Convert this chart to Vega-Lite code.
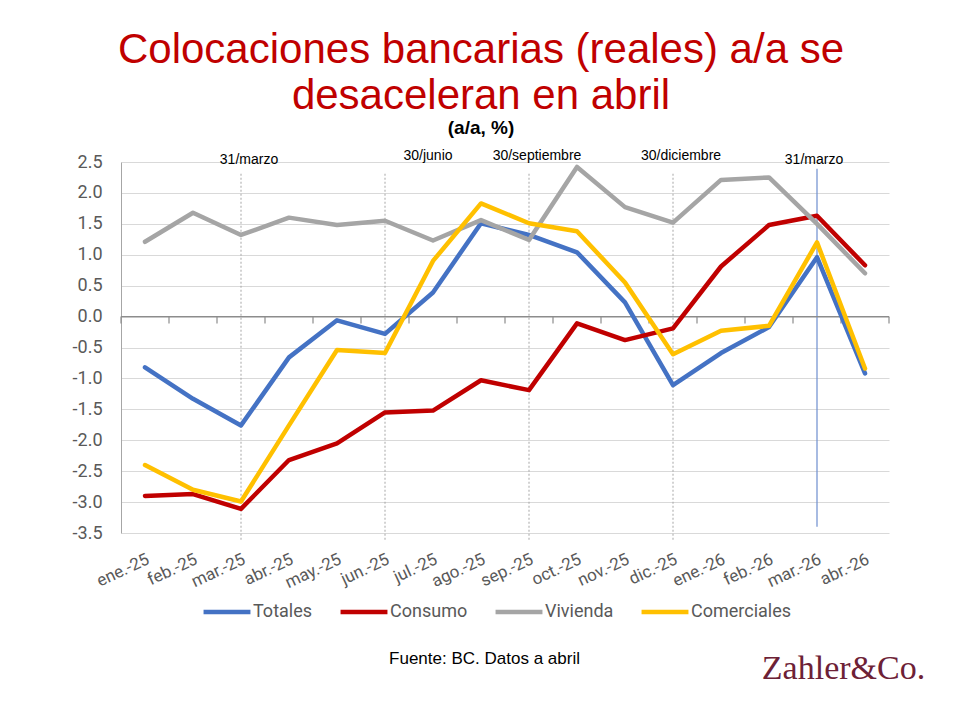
{
  "$schema": "https://vega.github.io/schema/vega-lite/v6.json",
  "width": 768,
  "height": 371,
  "autosize": "none",
  "padding": {"left": 121, "top": 162, "right": 72, "bottom": 188},
  "background": "white",
  "title": {
    "text": ["Colocaciones bancarias (reales) a/a se", "desaceleran en abril"],
    "subtitle": "(a/a, %)",
    "anchor": "middle",
    "dx": -24,
    "offset": 10,
    "font": "Liberation Sans",
    "fontSize": 42,
    "fontWeight": "normal",
    "color": "#C00000",
    "lineHeight": 46,
    "subtitleFont": "Liberation Sans",
    "subtitleFontSize": 19,
    "subtitleFontWeight": "bold",
    "subtitleColor": "#000000",
    "subtitlePadding": 1
  },
  "config": {
    "view": {"stroke": null},
    "axis": {"labelFont": "Roboto", "labelColor": "#595959"},
    "axisY": {"labelOverlap": false, "tickCount": 12}
  },
  "datasets": {
    "series": [
      {"month": "ene.-25", "serie": "Totales", "valor": -0.82},
      {"month": "feb.-25", "serie": "Totales", "valor": -1.33},
      {"month": "mar.-25", "serie": "Totales", "valor": -1.76},
      {"month": "abr.-25", "serie": "Totales", "valor": -0.66},
      {"month": "may.-25", "serie": "Totales", "valor": -0.06},
      {"month": "jun.-25", "serie": "Totales", "valor": -0.28},
      {"month": "jul.-25", "serie": "Totales", "valor": 0.39},
      {"month": "ago.-25", "serie": "Totales", "valor": 1.51},
      {"month": "sep.-25", "serie": "Totales", "valor": 1.32},
      {"month": "oct.-25", "serie": "Totales", "valor": 1.04},
      {"month": "nov.-25", "serie": "Totales", "valor": 0.23},
      {"month": "dic.-25", "serie": "Totales", "valor": -1.11},
      {"month": "ene.-26", "serie": "Totales", "valor": -0.59},
      {"month": "feb.-26", "serie": "Totales", "valor": -0.17},
      {"month": "mar.-26", "serie": "Totales", "valor": 0.96},
      {"month": "abr.-26", "serie": "Totales", "valor": -0.92},
      {"month": "ene.-25", "serie": "Consumo", "valor": -2.90},
      {"month": "feb.-25", "serie": "Consumo", "valor": -2.87},
      {"month": "mar.-25", "serie": "Consumo", "valor": -3.11},
      {"month": "abr.-25", "serie": "Consumo", "valor": -2.32},
      {"month": "may.-25", "serie": "Consumo", "valor": -2.05},
      {"month": "jun.-25", "serie": "Consumo", "valor": -1.55},
      {"month": "jul.-25", "serie": "Consumo", "valor": -1.52},
      {"month": "ago.-25", "serie": "Consumo", "valor": -1.03},
      {"month": "sep.-25", "serie": "Consumo", "valor": -1.19},
      {"month": "oct.-25", "serie": "Consumo", "valor": -0.11},
      {"month": "nov.-25", "serie": "Consumo", "valor": -0.38},
      {"month": "dic.-25", "serie": "Consumo", "valor": -0.19},
      {"month": "ene.-26", "serie": "Consumo", "valor": 0.81},
      {"month": "feb.-26", "serie": "Consumo", "valor": 1.48},
      {"month": "mar.-26", "serie": "Consumo", "valor": 1.63},
      {"month": "abr.-26", "serie": "Consumo", "valor": 0.83},
      {"month": "ene.-25", "serie": "Vivienda", "valor": 1.21},
      {"month": "feb.-25", "serie": "Vivienda", "valor": 1.68},
      {"month": "mar.-25", "serie": "Vivienda", "valor": 1.32},
      {"month": "abr.-25", "serie": "Vivienda", "valor": 1.60},
      {"month": "may.-25", "serie": "Vivienda", "valor": 1.48},
      {"month": "jun.-25", "serie": "Vivienda", "valor": 1.55},
      {"month": "jul.-25", "serie": "Vivienda", "valor": 1.23},
      {"month": "ago.-25", "serie": "Vivienda", "valor": 1.56},
      {"month": "sep.-25", "serie": "Vivienda", "valor": 1.24},
      {"month": "oct.-25", "serie": "Vivienda", "valor": 2.42},
      {"month": "nov.-25", "serie": "Vivienda", "valor": 1.77},
      {"month": "dic.-25", "serie": "Vivienda", "valor": 1.52},
      {"month": "ene.-26", "serie": "Vivienda", "valor": 2.21},
      {"month": "feb.-26", "serie": "Vivienda", "valor": 2.25},
      {"month": "mar.-26", "serie": "Vivienda", "valor": 1.50},
      {"month": "abr.-26", "serie": "Vivienda", "valor": 0.70},
      {"month": "ene.-25", "serie": "Comerciales", "valor": -2.40},
      {"month": "feb.-25", "serie": "Comerciales", "valor": -2.80},
      {"month": "mar.-25", "serie": "Comerciales", "valor": -2.99},
      {"month": "abr.-25", "serie": "Comerciales", "valor": -1.76},
      {"month": "may.-25", "serie": "Comerciales", "valor": -0.54},
      {"month": "jun.-25", "serie": "Comerciales", "valor": -0.59},
      {"month": "jul.-25", "serie": "Comerciales", "valor": 0.90},
      {"month": "ago.-25", "serie": "Comerciales", "valor": 1.83},
      {"month": "sep.-25", "serie": "Comerciales", "valor": 1.51},
      {"month": "oct.-25", "serie": "Comerciales", "valor": 1.38},
      {"month": "nov.-25", "serie": "Comerciales", "valor": 0.55},
      {"month": "dic.-25", "serie": "Comerciales", "valor": -0.61},
      {"month": "ene.-26", "serie": "Comerciales", "valor": -0.23},
      {"month": "feb.-26", "serie": "Comerciales", "valor": -0.15},
      {"month": "mar.-26", "serie": "Comerciales", "valor": 1.20},
      {"month": "abr.-26", "serie": "Comerciales", "valor": -0.84}
    ]
  },
  "encoding": {
    "x": {
      "field": "month",
      "type": "nominal",
      "scale": {
        "domain": ["ene.-25","feb.-25","mar.-25","abr.-25","may.-25","jun.-25","jul.-25","ago.-25","sep.-25","oct.-25","nov.-25","dic.-25","ene.-26","feb.-26","mar.-26","abr.-26"],
        "paddingInner": 0,
        "paddingOuter": 0
      },
      "axis": {
        "title": "Zahler&Co.",
        "titleFont": "Liberation Serif",
        "titleFontSize": 34,
        "titleFontWeight": "normal",
        "titleColor": "#6d2136",
        "titleX": 722,
        "titleY": 135,
        "titleAlign": "center",
        "titleBaseline": "middle",
        "labelAngle": -25,
        "labelFontSize": 17,
        "labelPadding": 18,
        "labelOverlap": false,
        "domain": false,
        "ticks": false,
        "grid": false
      }
    },
    "y": {
      "type": "quantitative",
      "scale": {"domain": [-3.5, 2.5], "nice": false, "zero": false},
      "axis": {
        "tickCount": 12,
        "format": ".1f",
        "labelExpr": "replace(datum.label, '\u2212', '-')",
        "labelOverlap": false,
        "labelFontSize": 18,
        "labelPadding": 19,
        "ticks": false,
        "domain": true,
        "domainColor": "#a6a6a6",
        "grid": true,
        "gridColor": "#d9d9d9",
        "gridWidth": 1.2,
        "title": "Fuente: BC. Datos a abril",
        "titleFont": "Liberation Sans",
        "titleFontSize": 17,
        "titleFontWeight": "normal",
        "titleColor": "#000000",
        "titleAngle": 0,
        "titleX": 363,
        "titleY": 496,
        "titleAlign": "center",
        "titleBaseline": "middle"
      }
    }
  },
  "layer": [
    {
      "data": {"values": [{"month": "mar.-25"}, {"month": "jun.-25"}, {"month": "sep.-25"}, {"month": "dic.-25"}]},
      "mark": {"type": "rule", "color": "#a6a6a6", "strokeWidth": 1, "strokeDash": [2, 2]},
      "encoding": {
        "y": {"datum": 2.31, "type": "quantitative"},
        "y2": {"datum": -3.62}
      }
    },
    {
      "data": {"values": [{"month": "mar.-26"}]},
      "mark": {"type": "rule", "color": "#6d8ecf", "strokeWidth": 1.2},
      "encoding": {
        "y": {"datum": 2.39, "type": "quantitative"},
        "y2": {"datum": -3.4}
      }
    },
    {
      "data": {"values": [{}]},
      "mark": {"type": "rule", "color": "#8c8c8c", "strokeWidth": 1.3},
      "encoding": {
        "x": {"value": 0},
        "x2": {"value": 768},
        "y": {"datum": 0, "type": "quantitative"}
      }
    },
    {
      "data": {"name": "series"},
      "transform": [{"filter": "datum.serie === 'Totales'"}],
      "mark": {"type": "rule", "color": "#8c8c8c", "strokeWidth": 1.2},
      "encoding": {
        "x": {"field": "month", "type": "nominal", "bandPosition": 0},
        "y": {"datum": 0, "type": "quantitative"},
        "y2": {"datum": -0.11}
      }
    },
    {
      "data": {"values": [{"month": "abr.-26"}]},
      "mark": {"type": "rule", "color": "#8c8c8c", "strokeWidth": 1.2},
      "encoding": {
        "x": {"field": "month", "type": "nominal", "bandPosition": 1},
        "y": {"datum": 0, "type": "quantitative"},
        "y2": {"datum": -0.11}
      }
    },
    {
      "data": {"name": "series"},
      "mark": {"type": "line", "strokeWidth": 4.5, "strokeCap": "round", "strokeJoin": "round"},
      "encoding": {
        "y": {"field": "valor", "type": "quantitative"},
        "color": {
          "field": "serie",
          "type": "nominal",
          "scale": {
            "domain": ["Totales", "Consumo", "Vivienda", "Comerciales"],
            "range": ["#4472C4", "#C00000", "#A5A5A5", "#FFC000"]
          },
          "legend": {
            "title": null,
            "orient": "none",
            "direction": "horizontal",
            "legendX": 80,
            "legendY": 424,
            "padding": 0,
            "symbolType": "stroke",
            "symbolSize": 2200,
            "symbolStrokeWidth": 4.5,
            "labelFont": "Roboto",
            "labelFontSize": 18,
            "labelColor": "#595959",
            "labelOffset": 0,
            "columnPadding": 18
          }
        },
        "order": {"value": 0}
      }
    },
    {
      "data": {"values": [{"month": "mar.-25", "texto": "31/marzo"}]},
      "mark": {"type": "text", "font": "Liberation Sans", "fontSize": 14, "color": "#000000", "baseline": "middle", "dx": 8},
      "encoding": {
        "y": {"datum": 2.53, "type": "quantitative"},
        "text": {"field": "texto"}
      }
    },
    {
      "data": {"values": [{"month": "mar.-26", "texto": "31/marzo"}]},
      "mark": {"type": "text", "font": "Liberation Sans", "fontSize": 14, "color": "#000000", "baseline": "middle", "dx": -3},
      "encoding": {
        "y": {"datum": 2.53, "type": "quantitative"},
        "text": {"field": "texto"}
      }
    },
    {
      "data": {"values": [{"month": "jul.-25", "texto": "30/junio"}]},
      "mark": {"type": "text", "font": "Liberation Sans", "fontSize": 14, "color": "#000000", "baseline": "middle", "dx": -5},
      "encoding": {
        "y": {"datum": 2.6, "type": "quantitative"},
        "text": {"field": "texto"}
      }
    },
    {
      "data": {"values": [{"month": "sep.-25", "texto": "30/septiembre"}, {"month": "dic.-25", "texto": "30/diciembre"}]},
      "mark": {"type": "text", "font": "Liberation Sans", "fontSize": 14, "color": "#000000", "baseline": "middle", "dx": 8},
      "encoding": {
        "y": {"datum": 2.6, "type": "quantitative"},
        "text": {"field": "texto"}
      }
    }
  ]
}
